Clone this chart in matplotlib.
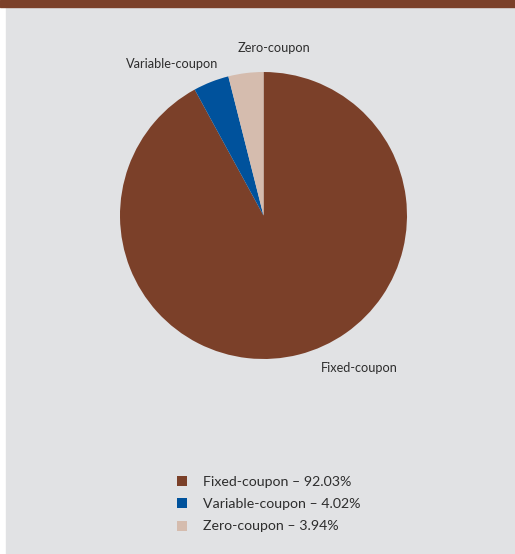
import matplotlib
matplotlib.use("Agg")
import matplotlib.pyplot as plt
from matplotlib.patches import Rectangle
from matplotlib.lines import Line2D

# Outstanding bonds by coupon type (share of total, %)
categories = ["Fixed-coupon", "Variable-coupon", "Zero-coupon"]
shares = [92.03, 4.02, 3.94]
colors = ["#7b4029", "#00529c", "#d5bcae"]

W, H = 515, 554
DPI = 100
plt.rcParams["font.family"] = ["Lato", "DejaVu Sans"]
text_color = "#2e2e2e"

fig = plt.figure(figsize=(W / DPI, H / DPI), dpi=DPI, facecolor="white")

# panel background and header strip
fig.patches.append(Rectangle((6 / W, 0), 1 - 6 / W, 1 - 7 / H,
                             transform=fig.transFigure, color="#e1e2e4", zorder=-2))
fig.patches.append(Rectangle((0, 1 - 7 / H), 1, 7 / H,
                             transform=fig.transFigure, color="#7b4029", zorder=-2))

# axes covering the whole figure, one data unit = pie radius
cx, cy, r = 263.5, 215.5, 143.5
ax = fig.add_axes([0, 0, 1, 1])
ax.set_zorder(1)
ax.patch.set_visible(False)

wedges, _ = ax.pie(shares, colors=colors, startangle=90, counterclock=False,
                   radius=1.0, center=(0, 0), frame=False,
                   wedgeprops=dict(linewidth=0))
ax.set_xlim((0 - cx) / r, (W - cx) / r)
ax.set_ylim((cy - H) / r, (cy - 0) / r)
ax.set_aspect("equal")
ax.axis("off")


def px(x, y):
    return (x - cx) / r, (cy - y) / r


label_pos = {"Fixed-coupon": (359, 368),
             "Variable-coupon": (172, 64),
             "Zero-coupon": (274, 48)}
for name in categories:
    ax.text(*px(*label_pos[name]), name, ha="center", va="center",
            fontsize=9.2, color=text_color)

handles = [Line2D([0], [0], marker="s", linestyle="none", markersize=7,
                  markerfacecolor=c, markeredgewidth=0) for c in colors]
labels = [f"{n} \u2013 {v:.2f}%" for n, v in zip(categories, shares)]
leg = fig.legend(handles, labels, loc="upper left",
                 bbox_to_anchor=(168 / W, 1 - 469 / H),
                 frameon=False, fontsize=10.2, handlelength=1.0,
                 handletextpad=0.95, labelspacing=0.72, borderpad=0)
leg.set_zorder(2)
for t in leg.get_texts():
    t.set_color(text_color)

fig.savefig("out.png", dpi=DPI, facecolor="white")
